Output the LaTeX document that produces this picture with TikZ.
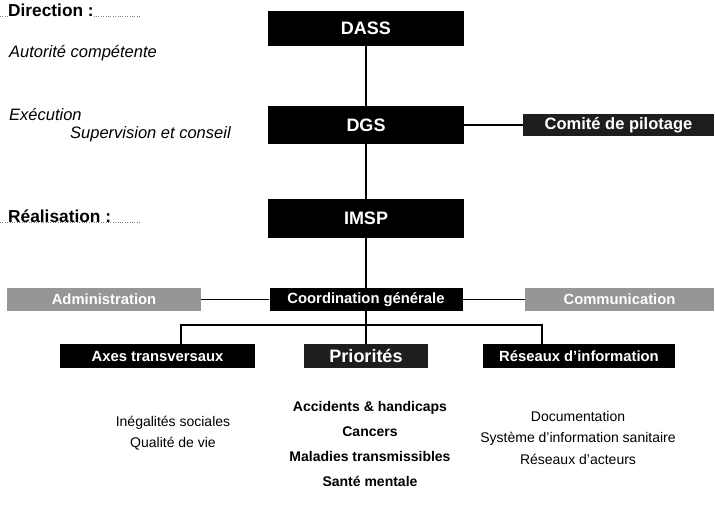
\documentclass[tikz,border=0pt]{standalone}
\usepackage{fontspec}
\setmainfont{Liberation Sans}
\usepackage{tikz}
\usetikzlibrary{positioning}
\definecolor{boxgrey}{RGB}{150,150,150}
\definecolor{darkbox}{RGB}{30,30,30}

\begin{document}
\begin{tikzpicture}[x=1pt, y=1pt,
    bigbox/.style={fill=black, text=white, inner sep=0pt, minimum width=196pt, font=\fontsize{18}{20}\selectfont\bfseries},
    smallbox/.style={fill=black, text=white, inner sep=0pt, minimum height=23pt, font=\fontsize{14.8}{16}\selectfont\bfseries},
    greybox/.style={smallbox, fill=boxgrey},
    darkbx/.style={smallbox, fill=darkbox},
    conn/.style={line width=1.3pt},
    level/.style={font=\fontsize{17.3}{19}\selectfont\bfseries, inner sep=0pt},
    role/.style={font=\fontsize{16.5}{18}\selectfont\itshape, inner sep=0pt, anchor=west},
    items/.style={align=center, inner sep=0pt}]
  \useasboundingbox (0, 0) rectangle (715, 515);
  \draw[gray, dotted, thin] (0, 498.5) -- (140, 498.5);
  \draw[gray, dotted, thin] (0, 293) -- (140, 293);
  \node[level, anchor=base west, fill=white] (direction) at (8, 498) {Direction :};
  \node[level, anchor=base west, fill=white] (realisation) at (8, 293) {Réalisation :};
  \node[role] (autorite) at (9, 462) {Autorité compétente};
  \node[role] (execution) at (9, 400) {Exécution};
  \node[role] (supervision) at (70, 381) {Supervision et conseil};
  \node[bigbox, minimum height=35pt] (dass) at (366, 486.5) {DASS};
  \node[bigbox, minimum height=38pt] (dgs) at (366, 390) {DGS};
  \node[bigbox, minimum height=39pt] (imsp) at (366, 296.5) {IMSP};
  \node[darkbx, minimum width=191pt, minimum height=22pt, font=\fontsize{16.5}{18}\selectfont\bfseries] (comite) at (618.5, 390) {Comité de pilotage};
  \node[smallbox, minimum width=193pt] (coord) at (366, 215.5) {Coordination générale};
  \node[greybox, minimum width=194pt] (admin) at (104, 215.5) {Administration};
  \node[greybox, minimum width=189pt] (comm) at (619.5, 215.5) {Communication};
  \node[smallbox, minimum width=195pt, minimum height=24pt] (axes) at (157.5, 159) {Axes transversaux};
  \node[darkbx, minimum width=124pt, minimum height=24pt, font=\fontsize{18}{20}\selectfont\bfseries] (prio) at (366, 159) {Priorités};
  \node[smallbox, minimum width=192pt, minimum height=24pt] (reseaux) at (579, 159) {Réseaux d'information};
  \coordinate (bl) at (181, 190);
  \coordinate (br) at (542, 190);
  \draw[conn] (dass) -- (dgs);
  \draw[conn] (dgs) -- (imsp);
  \draw[conn] (imsp) -- (coord);
  \draw[conn] (dgs.east) -- (comite.west);
  \draw[conn] (admin) -- (coord);
  \draw[conn] (coord) -- (comm);
  \draw[conn] (coord) -- (prio);
  \draw[conn] (bl |- axes.north) -- (bl) -- (br) -- (br |- reseaux.north);
  \node[items, font=\fontsize{14}{21}\selectfont] (transv) at (173, 81.5) {Inégalités sociales\\Qualité de vie};
  \node[items, font=\fontsize{14}{25}\selectfont\bfseries] (themes) at (370, 71.5) {Accidents \& handicaps\\Cancers\\Maladies transmissibles\\Santé mentale};
  \node[items, font=\fontsize{14}{21.5}\selectfont] (infos) at (578, 77.5) {Documentation\\Système d’information sanitaire\\Réseaux d’acteurs};
\end{tikzpicture}
\end{document}
